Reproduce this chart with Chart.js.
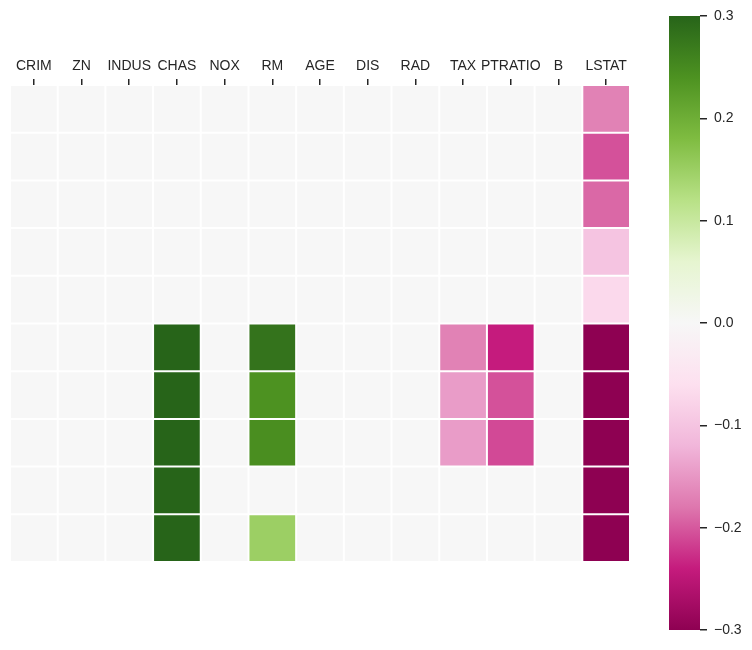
<!DOCTYPE html>
<html>
<head>
<meta charset="utf-8">
<script src="https://cdn.jsdelivr.net/npm/chart.js@4.4.1/dist/chart.umd.min.js"></script>
<style>
  html, body { margin: 0; padding: 0; background: #ffffff; }
  #wrap { position: relative; width: 752px; height: 650px; }
  #heat { position: absolute; left: 0; top: 0; }
  #cbar { position: absolute; left: 640px; top: 0; }
</style>
</head>
<body>
<div id="wrap">
  <canvas id="heat" width="640" height="650"></canvas>
  <canvas id="cbar" width="112" height="650"></canvas>
</div>
<script>
// ---- Data (rows top -> bottom, one array per feature column) ----
const features = ['CRIM','ZN','INDUS','CHAS','NOX','RM','AGE','DIS','RAD','TAX','PTRATIO','B','LSTAT'];
const coefCRIM    = [0, 0, 0, 0, 0, 0, 0, 0, 0, 0];
const coefZN      = [0, 0, 0, 0, 0, 0, 0, 0, 0, 0];
const coefINDUS   = [0, 0, 0, 0, 0, 0, 0, 0, 0, 0];
const coefCHAS    = [0, 0, 0, 0, 0, 0.45, 0.45, 0.45, 0.45, 0.45];
const coefNOX     = [0, 0, 0, 0, 0, 0, 0, 0, 0, 0];
const coefRM      = [0, 0, 0, 0, 0, 0.28, 0.24, 0.245, 0, 0.15];
const coefAGE     = [0, 0, 0, 0, 0, 0, 0, 0, 0, 0];
const coefDIS     = [0, 0, 0, 0, 0, 0, 0, 0, 0, 0];
const coefRAD     = [0, 0, 0, 0, 0, 0, 0, 0, 0, 0];
const coefTAX     = [0, 0, 0, 0, 0, -0.17, -0.145, -0.145, 0, 0];
const coefPTRATIO = [0, 0, 0, 0, 0, -0.24, -0.205, -0.21, 0, 0];
const coefB       = [0, 0, 0, 0, 0, 0, 0, 0, 0, 0];
const coefLSTAT   = [-0.17, -0.205, -0.19, -0.10, -0.07, -0.40, -0.40, -0.40, -0.40, -0.40];
const colorbarTicks = [-0.3, -0.2, -0.1, 0.0, 0.1, 0.2, 0.3];
const vmin = -0.3, vmax = 0.3;

const columns = [coefCRIM, coefZN, coefINDUS, coefCHAS, coefNOX, coefRM, coefAGE,
                 coefDIS, coefRAD, coefTAX, coefPTRATIO, coefB, coefLSTAT];
const nRows = coefCRIM.length;

// ---- PiYG colormap ----
const piyg = [
  [142,1,82],[197,27,125],[222,119,174],[241,182,218],[253,224,239],
  [247,247,247],[230,245,208],[184,225,134],[127,188,65],[77,146,33],[39,100,25]
];
function cmap(t) {
  t = Math.max(0, Math.min(1, t));
  const p = t * (piyg.length - 1);
  const i = Math.min(piyg.length - 2, Math.floor(p));
  const f = p - i;
  const a = piyg[i], b = piyg[i + 1];
  const c = a.map((v, k) => Math.round(v + (b[k] - v) * f));
  return 'rgb(' + c.join(',') + ')';
}
function colorFor(v) { return cmap((v - vmin) / (vmax - vmin)); }

Chart.defaults.font.family = "'Liberation Sans', Arial, sans-serif";
Chart.defaults.font.size = 14;
Chart.defaults.color = '#262626';

// ---- Heatmap ----
const datasets = [];
for (let r = 0; r < nRows; r++) {
  datasets.push({
    data: columns.map(() => [r, r + 1]),
    backgroundColor: columns.map(col => colorFor(col[r])),
    borderColor: '#ffffff',
    borderWidth: 1,
    borderSkipped: false,
    inflateAmount: 0,
    grouped: false,
    barPercentage: 1,
    categoryPercentage: 1
  });
}

new Chart(document.getElementById('heat'), {
  type: 'bar',
  data: { labels: features, datasets: datasets },
  options: {
    responsive: false,
    animation: false,
    events: [],
    layout: { padding: { left: 10, right: 10, top: 0, bottom: 88 } },
    plugins: { legend: { display: false }, tooltip: { enabled: false } },
    scales: {
      x: {
        type: 'category',
        position: 'top',
        offset: true,
        border: { display: false },
        grid: { offset: false, drawOnChartArea: false, drawTicks: true, tickLength: 6, color: '#262626', lineWidth: 1.5 },
        ticks: { padding: 4, maxRotation: 0, autoSkip: false },
        afterFit: (s) => { s.height = 85; }
      },
      y: {
        type: 'linear', min: 0, max: nRows, reverse: true, display: false
      }
    }
  }
});

// ---- Colorbar ----
new Chart(document.getElementById('cbar'), {
  type: 'bar',
  data: {
    labels: ['cb'],
    datasets: [{
      data: [[vmin, vmax]],
      backgroundColor: (ctx) => {
        const ca = ctx.chart.chartArea;
        if (!ca) return '#f7f7f7';
        const g = ctx.chart.ctx.createLinearGradient(0, ca.bottom, 0, ca.top);
        piyg.forEach((c, i) => g.addColorStop(i / (piyg.length - 1), 'rgb(' + c.join(',') + ')'));
        return g;
      },
      borderWidth: 0,
      inflateAmount: 0,
      barPercentage: 1,
      categoryPercentage: 1
    }]
  },
  options: {
    responsive: false,
    animation: false,
    events: [],
    layout: { padding: { left: 29, right: 0, top: 16, bottom: 20 } },
    plugins: { legend: { display: false }, tooltip: { enabled: false } },
    scales: {
      x: { display: false },
      y: {
        type: 'linear',
        position: 'right',
        min: vmin, max: vmax,
        afterBuildTicks: (s) => { s.ticks = colorbarTicks.map(v => ({ value: v })); },
        border: { display: false },
        grid: { drawOnChartArea: false, drawTicks: true, tickLength: 7, color: '#262626', lineWidth: 1.5 },
        ticks: {
          padding: 7,
          callback: (v) => {
            const s = Math.abs(v).toFixed(1);
            return v < -1e-9 ? '\u2212' + s : s;
          }
        },
        afterFit: (s) => { s.width = 52; }
      }
    }
  }
});
</script>
</body>
</html>
